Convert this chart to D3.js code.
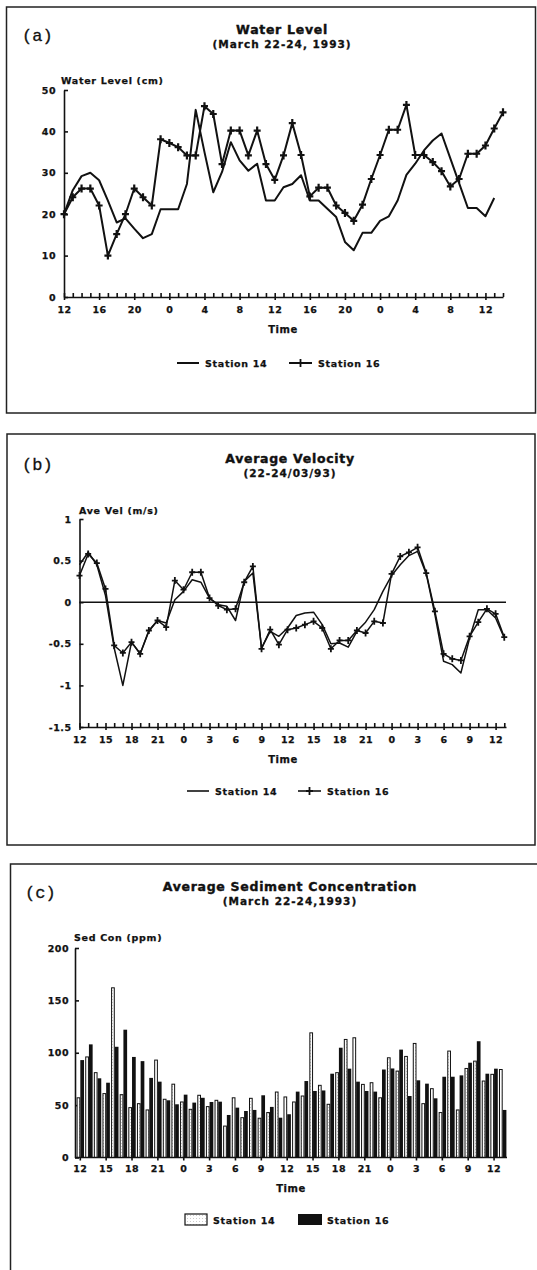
<!DOCTYPE html>
<html>
<head>
<meta charset="utf-8">
<script src="https://d3js.org/d3.v7.min.js"></script>
<style>
  body { margin: 0; background: #fff; }
  svg text { font-family: "DejaVu Sans", sans-serif; font-weight: bold; fill: #111; stroke: #111; stroke-width: 0.25px; }
  .title { font-size: 12.5px; letter-spacing: 0.7px; stroke-width: 0.4px; }
  .subtitle { font-size: 10.5px; letter-spacing: 1px; stroke-width: 0.3px; }
  .tag { font-family: "Liberation Mono", monospace; font-weight: normal; font-size: 17px; stroke-width: 0.3px; }
  .ax text { font-size: 9.5px; letter-spacing: 0.5px; }
  .ax path, .ax line { stroke: #111; stroke-width: 1.6px; }
  .lab { font-size: 9.5px; letter-spacing: 0.7px; }
  .time { font-size: 10px; letter-spacing: 0.5px; }
</style>
</head>
<body>
<div id="chart"></div>
<script>

// tick labels on the time axes
var labels4h = ["12","16","20","0","4","8","12","16","20","0","4","8","12"];
var labels3h = ["12","15","18","21","0","3","6","9","12","15","18","21","0","3","6","9","12"];

// (a) water level (cm), hourly from 12:00 March 22
var level14 = [20, 25.8, 29.2, 30, 28.2, 23.3, 18, 19, 16.5, 14.2,
               15.2, 21.2, 21.2, 21.2, 27.3, 45.2, 35, 25.3, 30.2, 37.4,
               33, 30.5, 32.2, 23.3, 23.3, 26.5, 27.3, 29.4, 23.3, 23.3,
               21.3, 19.3, 13.3, 11.3, 15.5, 15.5, 18.4, 19.5, 23.3, 29.5,
               32.2, 35.4, 37.8, 39.5, 33.5, 27.5, 21.5, 21.5, 19.5, 23.9];
var level16 = [20, 24.1, 26.2, 26.2, 22.1, 10, 15.2, 20, 26.2, 24.1,
               22.1, 38.1, 37.2, 36.2, 34.2, 34.2, 46.1, 44.2, 32.1, 40.2,
               40.2, 34.2, 40.2, 32.1, 28.3, 34.2, 42, 34.3, 24.3, 26.4,
               26.4, 22.1, 20.3, 18.4, 22.3, 28.5, 34.3, 40.4, 40.4, 46.4,
               34.3, 34.3, 32.6, 30.4, 26.7, 28.5, 34.6, 34.6, 36.6, 40.7, 44.6];

// (b) average velocity (m/s)
var vel14 = [0.45, 0.6, 0.45, 0.08, -0.55, -1.0, -0.48, -0.62, -0.35, -0.22,
             -0.25, 0.03, 0.13, 0.27, 0.24, 0.05, -0.03, -0.05, -0.22, 0.25,
             0.35, -0.55, -0.35, -0.41, -0.31, -0.16, -0.13, -0.12, -0.27, -0.5,
             -0.49, -0.54, -0.35, -0.24, -0.09, 0.13, 0.32, 0.45, 0.56, 0.61,
             0.34, -0.15, -0.71, -0.75, -0.85, -0.43, -0.09, -0.09, -0.19, -0.43];
var vel16 = [0.32, 0.58, 0.47, 0.16, -0.52, -0.61, -0.48, -0.62, -0.34, -0.22,
             -0.3, 0.26, 0.15, 0.36, 0.36, 0.05, -0.04, -0.09, -0.08, 0.24,
             0.43, -0.56, -0.33, -0.51, -0.33, -0.31, -0.27, -0.23, -0.31, -0.56,
             -0.46, -0.46, -0.34, -0.37, -0.23, -0.25, 0.34, 0.55, 0.6, 0.66,
             0.35, -0.11, -0.62, -0.68, -0.7, -0.41, -0.24, -0.08, -0.14, -0.42];

// (c) average sediment concentration (ppm)
var sed14 = [57, 96, 81, 61, 162, 60, 47.6, 51.4, 45.4, 93,
             55.6, 70, 53, 46, 59.4, 48.6, 54.6, 30, 57, 38,
             56.5, 37.5, 42.9, 62.5, 57.8, 53, 58.7, 119, 68.9, 50.8,
             81, 112.7, 114.3, 69.8, 71.4, 57, 95.2, 82.5, 96.5, 108.9,
             51.4, 65.7, 42.9, 101.6, 45.4, 85, 92, 73, 79.4, 84];
var sed16 = [93, 108, 75.6, 71.4, 105.7, 122, 96, 92, 76, 72.4,
             54.6, 50.8, 60, 52.4, 57, 53, 53.3, 40.6, 47.6, 44.4,
             45.4, 59.4, 48.3, 38, 41.3, 62.9, 73, 63.5, 64, 80,
             104.8, 84.8, 72.4, 63.5, 62.9, 84, 85, 103, 58.7, 73.7,
             70.5, 56.5, 77.1, 77.1, 78.4, 90.5, 111, 80, 84.8, 45.4];

var svg = d3.select("#chart").append("svg")
    .attr("width", 537).attr("height", 1270);

svg.append("rect").attr("width", 537).attr("height", 1270).attr("fill", "#fff");

// dotted texture for the white bars
var pat = svg.append("defs").append("pattern")
    .attr("id", "stip").attr("patternUnits", "userSpaceOnUse")
    .attr("width", 3).attr("height", 3);
pat.append("rect").attr("width", 3).attr("height", 3).attr("fill", "#fff");
pat.append("rect").attr("x", 1).attr("width", 1).attr("height", 1).attr("fill", "#ccc");

// panel frames
function frame(x, y, w, h) {
    svg.append("rect").attr("x", x).attr("y", y).attr("width", w).attr("height", h)
        .attr("fill", "none").attr("stroke", "#222").attr("stroke-width", 1.5);
}
frame(6.5, 7, 529, 406);
frame(7, 434, 528, 411);
frame(10.5, 864, 530, 420);

function cleanAxis(g) {
    g.attr("font-size", null).attr("font-family", null).attr("class", "ax");
}

function heading(cx, tagX, y, title, sub, tag) {
    svg.append("text").attr("class", "title").attr("x", cx).attr("y", y)
        .attr("text-anchor", "middle").text(title);
    svg.append("text").attr("class", "subtitle").attr("x", cx).attr("y", y + 14)
        .attr("text-anchor", "middle").text(sub);
    svg.append("text").attr("class", "tag").attr("x", tagX).attr("y", y + 7).text(tag);
}

var cross = "M-3.5,0H3.5M0,-4V4";

function lineLegend(y, x1, x2, w) {
    svg.append("line").attr("x1", x1).attr("x2", x1 + 22).attr("y1", y).attr("y2", y)
        .attr("stroke", "#111").attr("stroke-width", w);
    svg.append("text").attr("class", "lab").attr("x", x1 + 28).attr("y", y + 3.5).text("Station 14");
    svg.append("line").attr("x1", x2).attr("x2", x2 + 23).attr("y1", y).attr("y2", y)
        .attr("stroke", "#111").attr("stroke-width", w);
    svg.append("path").attr("d", cross).attr("transform", "translate(" + (x2 + 11.5) + "," + y + ")")
        .attr("stroke", "#111").attr("stroke-width", 1.8).attr("fill", "none");
    svg.append("text").attr("class", "lab").attr("x", x2 + 29).attr("y", y + 3.5).text("Station 16");
}

// ---------- (a) Water Level ----------
heading(282, 22, 34, "Water Level", "(March 22-24, 1993)", "(a)");

var xa = d3.scaleLinear().domain([0, 50]).range([64, 503]);
var ya = d3.scaleLinear().domain([0, 50]).range([297, 90]);

svg.append("g").attr("transform", "translate(64,0)")
    .call(d3.axisLeft(ya).tickValues([0, 10, 20, 30, 40, 50]).tickSize(-4).tickSizeOuter(0).tickPadding(8))
    .call(cleanAxis);
svg.append("g").attr("transform", "translate(0,297)")
    .call(d3.axisBottom(xa).tickValues(d3.range(0, 51)).tickSize(-4).tickSizeOuter(0).tickFormat(""))
    .call(cleanAxis);
svg.append("g").attr("transform", "translate(0,297)")
    .call(d3.axisBottom(xa).tickValues(d3.range(0, 49, 4)).tickSize(3).tickPadding(6)
        .tickFormat(function (d, i) { return labels4h[i]; }))
    .call(cleanAxis)
    .call(function (g) { g.select(".domain").remove(); });

svg.append("text").attr("class", "lab").attr("x", 61).attr("y", 84).text("Water Level (cm)");
svg.append("text").attr("class", "time").attr("x", 283).attr("y", 333)
    .attr("text-anchor", "middle").text("Time");

var lineA = d3.line().x(function (d, i) { return xa(i); }).y(function (d) { return ya(d); });
svg.append("path").datum(level14).attr("d", lineA)
    .attr("fill", "none").attr("stroke", "#111").attr("stroke-width", 2).attr("stroke-linejoin", "round");
svg.append("path").datum(level16).attr("d", lineA)
    .attr("fill", "none").attr("stroke", "#111").attr("stroke-width", 2).attr("stroke-linejoin", "round");
svg.append("g").selectAll("path").data(level16).enter().append("path")
    .attr("d", cross)
    .attr("transform", function (d, i) { return "translate(" + xa(i) + "," + ya(d) + ")"; })
    .attr("stroke", "#111").attr("stroke-width", 2.2).attr("fill", "none");

lineLegend(363, 177, 289, 2);

// ---------- (b) Average Velocity ----------
heading(290, 22, 463, "Average Velocity", "(22-24/03/93)", "(b)");

var xb = d3.scaleLinear().domain([0, 49.2]).range([79.5, 506]);
var yb = d3.scaleLinear().domain([-1.5, 1]).range([727, 519]);

svg.append("g").attr("transform", "translate(79.5,0)")
    .call(d3.axisLeft(yb).tickValues([-1.5, -1, -0.5, 0, 0.5, 1]).tickSize(-4).tickSizeOuter(0).tickPadding(8)
        .tickFormat(function (d) { return String(d); }))
    .call(cleanAxis);
svg.append("g").attr("transform", "translate(0,727)")
    .call(d3.axisBottom(xb).tickValues(d3.range(0, 50)).tickSize(-4).tickSizeOuter(0).tickFormat(""))
    .call(cleanAxis);
svg.append("g").attr("transform", "translate(0,727)")
    .call(d3.axisBottom(xb).tickValues(d3.range(0, 49, 3)).tickSize(3).tickPadding(6)
        .tickFormat(function (d, i) { return labels3h[i]; }))
    .call(cleanAxis)
    .call(function (g) { g.select(".domain").remove(); });

// zero line
svg.append("line").attr("x1", xb(0)).attr("x2", xb(49.2)).attr("y1", yb(0)).attr("y2", yb(0))
    .attr("stroke", "#111").attr("stroke-width", 1.6);

svg.append("text").attr("class", "lab").attr("x", 79).attr("y", 513.5).text("Ave Vel (m/s)");
svg.append("text").attr("class", "time").attr("x", 283).attr("y", 763)
    .attr("text-anchor", "middle").text("Time");

var lineB = d3.line().x(function (d, i) { return xb(i); }).y(function (d) { return yb(d); });
svg.append("path").datum(vel14).attr("d", lineB)
    .attr("fill", "none").attr("stroke", "#111").attr("stroke-width", 1.5).attr("stroke-linejoin", "round");
svg.append("path").datum(vel16).attr("d", lineB)
    .attr("fill", "none").attr("stroke", "#111").attr("stroke-width", 1.5).attr("stroke-linejoin", "round");
svg.append("g").selectAll("path").data(vel16).enter().append("path")
    .attr("d", "M-3,0H3M0,-3.5V3.5")
    .attr("transform", function (d, i) { return "translate(" + xb(i) + "," + yb(d) + ")"; })
    .attr("stroke", "#111").attr("stroke-width", 1.8).attr("fill", "none");

lineLegend(791, 187, 298, 1.6);

// ---------- (c) Average Sediment Concentration ----------
heading(290, 25, 891, "Average Sediment Concentration", "(March 22-24,1993)", "(c)");

var xc = d3.scaleBand().domain(d3.range(sed14.length)).range([76, 507])
    .paddingInner(0.14).paddingOuter(0.07);
var xs = d3.scaleBand().domain(["s14", "s16"]).range([0, xc.bandwidth()]);
var yc = d3.scaleLinear().domain([0, 200]).range([1157.5, 948]);

svg.append("g").attr("transform", "translate(75,0)")
    .call(d3.axisLeft(yc).tickValues([0, 50, 100, 150, 200]).tickSize(-4).tickSizeOuter(0).tickPadding(6))
    .call(cleanAxis);

var barsG = svg.append("g");
barsG.selectAll("rect.s14").data(sed14).enter().append("rect").attr("class", "s14")
    .attr("x", function (d, i) { return xc(i) + xs("s14") + 0.5; })
    .attr("y", function (d) { return yc(d); })
    .attr("width", xs.bandwidth() - 1)
    .attr("height", function (d) { return yc(0) - yc(d); })
    .attr("fill", "url(#stip)").attr("stroke", "#111").attr("stroke-width", 1);
barsG.selectAll("rect.s16").data(sed16).enter().append("rect").attr("class", "s16")
    .attr("x", function (d, i) { return xc(i) + xs("s16"); })
    .attr("y", function (d) { return yc(d); })
    .attr("width", xs.bandwidth())
    .attr("height", function (d) { return yc(0) - yc(d); })
    .attr("fill", "#111");

svg.append("g").attr("transform", "translate(0,1157.5)")
    .call(d3.axisBottom(xc).tickValues(d3.range(0, 50, 3)).tickSize(3).tickSizeOuter(0).tickPadding(5)
        .tickFormat(function (d, i) { return labels3h[i]; }))
    .call(cleanAxis)
    .call(function (g) { g.select(".domain").attr("d", "M75,0H507"); });

svg.append("text").attr("class", "lab").attr("x", 74).attr("y", 941).text("Sed Con (ppm)");
svg.append("text").attr("class", "time").attr("x", 291).attr("y", 1192)
    .attr("text-anchor", "middle").text("Time");

// legend (c)
svg.append("rect").attr("x", 185).attr("y", 1214).attr("width", 22).attr("height", 11)
    .attr("fill", "url(#stip)").attr("stroke", "#111").attr("stroke-width", 1.2);
svg.append("text").attr("class", "lab").attr("x", 213).attr("y", 1223.5).text("Station 14");
svg.append("rect").attr("x", 298).attr("y", 1214).attr("width", 24).attr("height", 11).attr("fill", "#111");
svg.append("text").attr("class", "lab").attr("x", 327).attr("y", 1223.5).text("Station 16");

</script>
</body>
</html>
